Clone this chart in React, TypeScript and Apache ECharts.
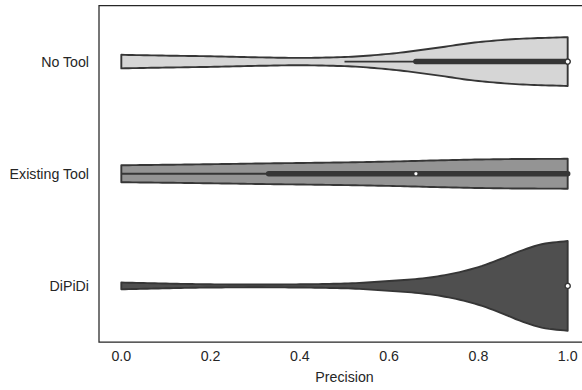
import React, { useEffect, useRef } from "react";
import * as echarts from "echarts";

// Categories (top to bottom)
const categories = ["No Tool", "Existing Tool", "DiPiDi"];
const fills = ["#d6d6d6", "#949494", "#4f4f4f"];

// Violin outline: precision positions and relative density (widest = 1)
const noToolX = [0, 0.1, 0.2, 0.3, 0.4, 0.5, 0.6, 0.7, 0.8, 0.9, 1.0];
const noToolD = [0.151, 0.133, 0.118, 0.096, 0.082, 0.102, 0.173, 0.296, 0.433, 0.511, 0.544];

const existingX = [0, 0.1, 0.2, 0.3, 0.4, 0.5, 0.6, 0.7, 0.8, 0.9, 1.0];
const existingD = [0.189, 0.2, 0.213, 0.227, 0.24, 0.253, 0.271, 0.296, 0.318, 0.329, 0.333];

const dipidiX = [0, 0.1, 0.2, 0.3, 0.4, 0.5, 0.6, 0.65, 0.7, 0.75, 0.8, 0.85, 0.9, 0.95, 1.0];
const dipidiD = [0.076, 0.053, 0.036, 0.031, 0.036, 0.053, 0.11, 0.145, 0.2, 0.29, 0.42, 0.6, 0.8, 0.945, 1.0];

// Inner box stats: [whiskerLow, q1, median, q3, whiskerHigh]
const noToolBox = [0.5, 0.66, 1.0, 1.0, 1.0];
const existingBox = [0.0, 0.33, 0.66, 1.0, 1.0];
const dipidiBox = [1.0, 1.0, 1.0, 1.0, 1.0];

const xTicks = [0, 0.2, 0.4, 0.6, 0.8, 1.0];

const violinX = [noToolX, existingX, dipidiX];
const violinD = [noToolD, existingD, dipidiD];
const boxes = [noToolBox, existingBox, dipidiBox];

// monotone cubic (Fritsch-Carlson style) interpolation for a smooth outline
function monotone(xs: number[], ys: number[]) {
  const n = xs.length;
  const d: number[] = [];
  const m: number[] = new Array(n).fill(0);
  for (let i = 0; i < n - 1; i++) d.push((ys[i + 1] - ys[i]) / (xs[i + 1] - xs[i]));
  m[0] = d[0];
  m[n - 1] = d[n - 2];
  for (let i = 1; i < n - 1; i++) {
    if (d[i - 1] * d[i] > 0) {
      const w1 = 2 * (xs[i + 1] - xs[i]) + (xs[i] - xs[i - 1]);
      const w2 = (xs[i + 1] - xs[i]) + 2 * (xs[i] - xs[i - 1]);
      m[i] = (w1 + w2) / (w1 / d[i - 1] + w2 / d[i]);
    } else m[i] = 0;
  }
  return (x: number) => {
    let i = 0;
    while (i < n - 2 && x > xs[i + 1]) i++;
    const h = xs[i + 1] - xs[i];
    const t = (x - xs[i]) / h;
    const t2 = t * t, t3 = t2 * t;
    return (2 * t3 - 3 * t2 + 1) * ys[i] + (t3 - 2 * t2 + t) * h * m[i] + (-2 * t3 + 3 * t2) * ys[i + 1] + (t3 - t2) * h * m[i + 1];
  };
}

const FONT = "'Liberation Sans', Arial, sans-serif";
const DARK = "#262626";
const LINE = "#363636";

export default function App() {
  const ref = useRef<HTMLDivElement>(null);
  useEffect(() => {
    if (!ref.current) return;
    const chart = echarts.init(ref.current, undefined, { renderer: "svg" });
    const option: any = {
      animation: false,
      backgroundColor: "#ffffff",
      grid: {
        left: 99,
        top: 5.5,
        width: 491,
        height: 336.5,
        show: true,
        borderColor: DARK,
        borderWidth: 1.25,
        backgroundColor: "transparent",
        outerBoundsMode: "none",
        containLabel: false,
      },
      xAxis: {
        type: "value",
        min: -0.05,
        max: 1.05,
        name: "Precision",
        nameLocation: "middle",
        nameGap: 28,
        nameTextStyle: { fontFamily: FONT, fontSize: 14.2, color: DARK },
        axisLine: { show: false },
        axisTick: { show: false },
        splitLine: { show: false },
        axisLabel: {
          customValues: xTicks,
          formatter: (v: number) => v.toFixed(1),
          fontFamily: FONT,
          fontSize: 14.2,
          color: DARK,
          margin: 7,
        },
      },
      yAxis: {
        type: "category",
        data: categories,
        inverse: true,
        axisLine: { show: false },
        axisTick: { show: false },
        splitLine: { show: false },
        axisLabel: { fontFamily: FONT, fontSize: 14.2, color: DARK, margin: 10 },
      },
      series: [
        {
          type: "custom",
          data: categories.map((_, i) => [0, i]),
          encode: { x: 0, y: 1 },
          renderItem: (params: any, api: any) => {
            const idx = api.value(1);
            const xs = violinX[idx];
            const ds = violinD[idx];
            const box = boxes[idx];
            const cy = api.coord([0, idx])[1];
            const band = api.size([0, 1])[1];
            const scale = 0.4 * band;
            const f = monotone(xs, ds);
            const top: number[][] = [];
            const bot: number[][] = [];
            const x0 = xs[0], x1 = xs[xs.length - 1];
            const N = 120;
            for (let k = 0; k <= N; k++) {
              const xv = x0 + ((x1 - x0) * k) / N;
              const px = api.coord([xv, idx])[0];
              const hw = Math.max(0, f(xv)) * scale;
              top.push([px, cy - hw]);
              bot.push([px, cy + hw]);
            }
            const pts = top.concat(bot.reverse());
            const children: any[] = [
              {
                type: "polygon",
                shape: { points: pts },
                style: { fill: fills[idx], stroke: LINE, lineWidth: 1.9, lineJoin: "round" },
              },
            ];
            const px = (v: number) => api.coord([v, idx])[0];
            if (box[4] > box[0]) {
              children.push({
                type: "line",
                shape: { x1: px(box[0]), y1: cy, x2: px(box[4]), y2: cy },
                style: { stroke: LINE, lineWidth: 1.8 },
              });
            }
            if (box[3] > box[1]) {
              children.push({
                type: "line",
                shape: { x1: px(box[1]), y1: cy, x2: px(box[3]), y2: cy },
                style: { stroke: LINE, lineWidth: 5.5, lineCap: "round" },
              });
            }
            const medAtEdge = box[2] >= x1;
            children.push({
              type: "circle",
              shape: { cx: px(box[2]), cy, r: medAtEdge ? 2.6 : 1.6 },
              style: { fill: "#ffffff", stroke: LINE, lineWidth: medAtEdge ? 1.4 : 0 },
            });
            return { type: "group", children };
          },
        },
      ],
    };
    chart.setOption(option);
    return () => chart.dispose();
  }, []);
  return (
    <div
      ref={ref}
      style={{ width: 582, height: 390, position: "fixed", left: 0, top: 0 }}
    />
  );
}
